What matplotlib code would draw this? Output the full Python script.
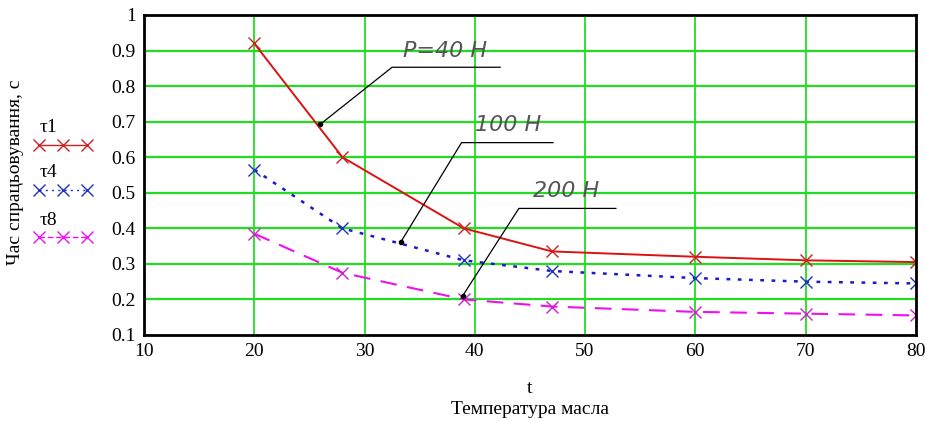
#графік часу спрацьовування від температури масла
import matplotlib
matplotlib.use("Agg")
import matplotlib.pyplot as plt
from matplotlib.lines import Line2D

#дані
t = [20, 28, 39, 47, 60, 70, 80]
tau1 = [0.92, 0.60, 0.40, 0.335, 0.32, 0.31, 0.305]
tau4 = [0.565, 0.40, 0.31, 0.28, 0.26, 0.25, 0.245]
tau8 = [0.385, 0.275, 0.20, 0.18, 0.165, 0.16, 0.155]
names = ["τ1", "τ4", "τ8"]
notes = ["P=40 H", "100 H", "200 H"]

plt.rcParams['font.family'] = ['Liberation Serif', 'DejaVu Serif']

fig = plt.figure(figsize=(9.26, 4.21), dpi=100)
ax = fig.add_axes([0.1555, 0.2043, 0.8335, 0.7601])

green = "#22dd22"
for v in [20, 30, 40, 50, 60, 70]:
    ax.axvline(v, color=green, lw=1.3, zorder=0)
for h in [0.2, 0.3, 0.4, 0.5, 0.6, 0.7, 0.8, 0.9]:
    ax.axhline(h, color=green, lw=1.6, zorder=0)

ax.plot(t, tau1, color="#dd1111", ls="-", lw=1.4, marker="x", ms=9, mew=1, mec="#cc2222")
ax.plot(t, tau4, color="#1a1acc", ls=(0, (1.5, 3)), lw=1.8, marker="x", ms=9, mew=1, mec="#2233bb")
ax.plot(t, tau8, color="#ee11ee", ls=(0, (8, 5)), lw=1.5, marker="x", ms=9, mew=1, mec="#cc22cc")

#виноски
leaders = [
    ([26.0, 32.5, 42.3], [0.693, 0.853, 0.853], (37.3, 0.90)),
    ([33.3, 38.8, 47.1], [0.362, 0.641, 0.641], (43.0, 0.69)),
    ([38.9, 44.0, 52.8], [0.21, 0.456, 0.456], (48.3, 0.506)),
]
for (lx, ly, pos), txt in zip(leaders, notes):
    ax.plot(lx, ly, color="black", lw=0.9)
    ax.plot(lx[0], ly[0], "o", color="black", ms=3)
    ax.text(pos[0], pos[1], txt, fontsize=16, style="italic", color="#555555",
            family="DejaVu Sans", fontweight="light", ha="center", va="center")

ax.set_xlim(10, 80)
ax.set_ylim(0.1, 1)
ax.set_xticks([10, 20, 30, 40, 50, 60, 70, 80])
ax.set_yticks([0.1, 0.2, 0.3, 0.4, 0.5, 0.6, 0.7, 0.8, 0.9, 1])
ax.set_yticklabels(["0.1", "0.2", "0.3", "0.4", "0.5", "0.6", "0.7", "0.8", "0.9", "1"])
ax.tick_params(length=0, labelsize=14, pad=6)
for s in ax.spines.values():
    s.set_linewidth(2)

ax.set_xlabel("t\nТемпература масла", fontsize=14, labelpad=14, linespacing=1.3)
fig.text(0.017, 0.59, "Час спрацьовування, с", rotation=90, fontsize=14,
         ha="center", va="center")

#легенда зліва
cols = ["#cc2222", "#2233bb", "#ee11ee"]
lss = ["-", (0, (1.5, 3)), (0, (4, 2))]
ys = [0.656, 0.549, 0.437]
for y, n, c, l in zip(ys, names, cols, lss):
    fig.text(0.043, y + 0.02, n, fontsize=14, va="bottom")
    fig.add_artist(Line2D([0.042, 0.068, 0.094], [y, y, y], color=c, ls=l, lw=1,
                          marker="x", ms=8, transform=fig.transFigure))

fig.savefig("out.png", dpi=100)
